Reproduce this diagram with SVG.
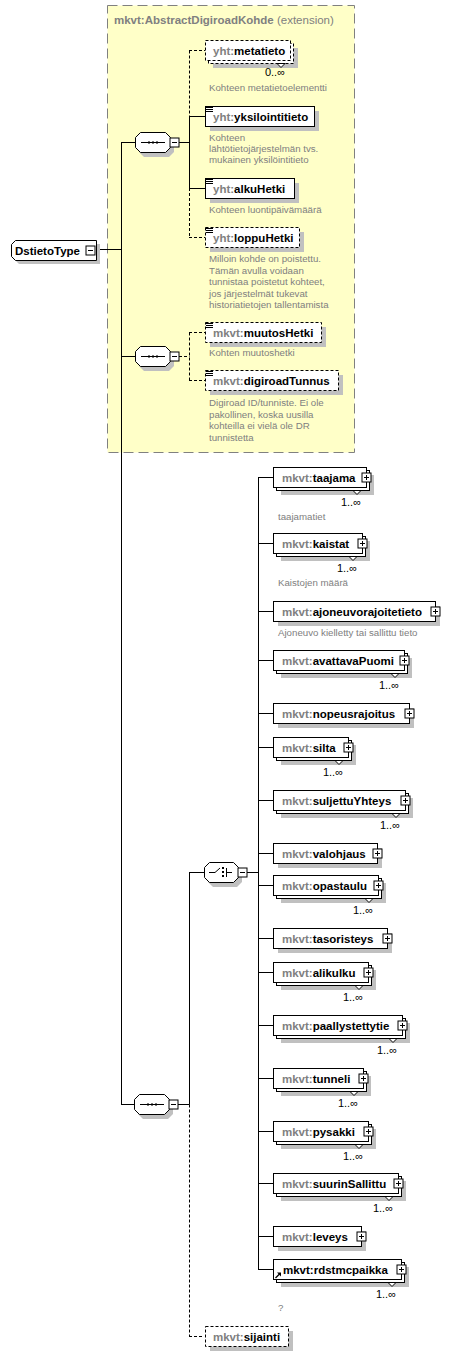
<svg xmlns="http://www.w3.org/2000/svg" xmlns:xlink="http://www.w3.org/1999/xlink" width="463" height="1356" viewBox="0 0 463 1356">
<style>
text{font-family:"Liberation Sans",Arial,sans-serif}
.bx{fill:#fff;stroke:#000;stroke-width:1}
.op{stroke-dasharray:3,2}
.sh{fill:#c0c0c0;stroke:none}
.nm{font-size:11.5px;font-weight:bold;fill:#000}
.pf{fill:#808080}
.ds{font-size:9.7px;fill:#808080}
.cd{font-size:11px;fill:#000;text-anchor:end}
.ln{stroke:#000;stroke-width:1;fill:none}
.dl{stroke:#000;stroke-width:1;fill:none;stroke-dasharray:3,2}
.ttl{font-size:11.5px;fill:#808080}
</style>
<defs>
<g id="plus"><rect x="-4" y="-4" width="9" height="9" fill="#fff" stroke="#000"/><path d="M-2,0.5H3M0.5,-2V3" stroke="#000" fill="none"/></g>
<g id="minus"><rect x="-4" y="-4" width="9" height="9" fill="#fff" stroke="#000"/><path d="M-2,0.5H3" stroke="#000" fill="none"/></g>
<g id="icon"><path d="M1,1.5H8M1,3.5H8M1,5.5H8" stroke="#000" fill="none"/></g>
<g id="seqsym"><path d="M6,0.5H30" stroke="#000"/><rect x="13" y="-0.5" width="2" height="2" fill="#000"/><rect x="17" y="-0.5" width="2" height="2" fill="#000"/><rect x="21" y="-0.5" width="2" height="2" fill="#000"/></g>
</defs>

<g id="extension">
<rect x="107.5" y="5.5" width="247" height="447" fill="#ffffc8" stroke="#808080" stroke-dasharray="10,5"/>
<text x="114" y="24" class="ttl"><tspan font-weight="bold">mkvt:AbstractDigiroadKohde</tspan> (extension)</text>
</g>

<g id="connectors">
<path class="ln" d="M96,249.5H121.5M121.5,142V1104.5M121,142.5H135M121,356.5H135M121,1104.5H134"/>
<path class="ln" d="M179,142.5H189.5M189.5,116V188M189,116.5H205M189,188.5H205"/>
<path class="dl" d="M189.5,50.5V116M189.5,188V237.5M189,50.5H205M189,237.5H205"/>
<path class="dl" d="M179,356.5H189.5M189.5,332.5V380.5M189,332.5H205M189,380.5H205"/>
<path class="ln" d="M178,1104.5H189.5M189.5,1104.5V872.5M189,872.5H204M247,872.5H258.5M258.5,477V1269.5"/>
<path class="dl" d="M189.5,1104.5V1336.5M189,1336.5H204"/>
<path class="ln" d="M258,477.5H273M258,543.5H273M258,611.5H273M258,660.5H273M258,713.5H273M258,747.5H273M258,800.5H273M258,853.5H273M258,885.5H273M258,938.5H273M258,972.5H273M258,1025.5H273M258,1078.5H273M258,1131.5H273M258,1183.5H273M258,1236.5H273M258,1269.5H273"/>
</g>

<g id="DstietoType">
<path class="sh" d="M19,244H100V264H19L15,260V248Z"/>
<path class="bx" d="M15.5,240.5H96.5V260.5H15.5L11.5,256.5V244.5Z"/>
<text x="15" y="254.5" class="nm">DstietoType</text>
<use xlink:href="#minus" x="90" y="250"/>
</g>

<g id="sequence1">
<path class="sh" d="M144,137H169L174,142V152L169,157H144L139,152V142Z"/>
<path class="bx" d="M140.5,132.5H165.5L170.5,137.5V147.5L165.5,152.5H140.5L135.5,147.5V137.5Z"/>
<use xlink:href="#seqsym" x="135" y="142"/>
<use xlink:href="#minus" x="174" y="142"/>
</g>

<g id="sequence2">
<path class="sh" d="M144,351H169L174,356V366L169,371H144L139,366V356Z"/>
<path class="bx" d="M140.5,346.5H165.5L170.5,351.5V361.5L165.5,366.5H140.5L135.5,361.5V351.5Z"/>
<use xlink:href="#seqsym" x="135" y="356"/>
<use xlink:href="#minus" x="174" y="356"/>
</g>

<g id="sequence3">
<path class="sh" d="M143,1099H168L173,1104V1114L168,1119H143L138,1114V1104Z"/>
<path class="bx" d="M139.5,1094.5H164.5L169.5,1099.5V1109.5L164.5,1114.5H139.5L134.5,1109.5V1099.5Z"/>
<use xlink:href="#seqsym" x="134" y="1104"/>
<use xlink:href="#minus" x="173" y="1104"/>
</g>

<g id="choice">
<path class="sh" d="M213,867H237L242,872V882L237,887H213L208,882V872Z"/>
<path class="bx" d="M209.5,862.5H233.5L238.5,867.5V877.5L233.5,882.5H209.5L204.5,877.5V867.5Z"/>
<path class="ln" d="M209,872.5H215L220,868M226.5,868V877M226,872.5H232"/>
<rect x="222" y="867" width="2" height="2"/><rect x="222" y="871" width="2" height="2"/><rect x="222" y="875" width="2" height="2"/>
<use xlink:href="#minus" x="242" y="872"/>
</g>

<g id="metatieto">
<rect class="sh" x="213" y="48" width="85" height="20"/>
<rect class="bx op" x="208.5" y="43.5" width="85" height="20"/>
<polygon class="bx" points="277,63.5 281,67.5 285,63.5"/>
<rect class="bx op" x="205.5" y="40.5" width="85" height="20"/>
<text x="213" y="54.5" class="nm"><tspan class="pf">yht:</tspan>metatieto</text>
<text x="285" y="76" class="cd">0..∞</text>
<text x="209" y="91" class="ds">Kohteen metatietoelementti</text>
</g>

<g id="yksilointitieto">
<rect class="sh" x="210" y="111" width="109" height="20"/>
<rect class="bx" x="205.5" y="106.5" width="109" height="20"/>
<use xlink:href="#icon" x="205" y="106"/>
<text x="213" y="120.5" class="nm"><tspan class="pf">yht:</tspan>yksilointitieto</text>
<text x="209" y="141" class="ds">Kohteen</text>
<text x="209" y="152" class="ds">lähtötietojärjestelmän  tvs.</text>
<text x="209" y="163" class="ds">mukainen yksilöintitieto</text>
</g>

<g id="alkuHetki">
<rect class="sh" x="210" y="183" width="89" height="20"/>
<rect class="bx" x="205.5" y="178.5" width="89" height="20"/>
<use xlink:href="#icon" x="205" y="178"/>
<text x="213" y="192.5" class="nm"><tspan class="pf">yht:</tspan>alkuHetki</text>
<text x="209" y="213" class="ds">Kohteen luontipäivämäärä</text>
</g>

<g id="loppuHetki">
<rect class="sh" x="210" y="232" width="94" height="20"/>
<rect class="bx op" x="205.5" y="227.5" width="94" height="20"/>
<use xlink:href="#icon" x="205" y="227"/>
<text x="213" y="241.5" class="nm"><tspan class="pf">yht:</tspan>loppuHetki</text>
<text x="209" y="262" class="ds">Milloin kohde on poistettu.</text>
<text x="209" y="273.5" class="ds">Tämän avulla voidaan</text>
<text x="209" y="285" class="ds">tunnistaa poistetut kohteet,</text>
<text x="209" y="296.5" class="ds">jos järjestelmät tukevat</text>
<text x="209" y="308" class="ds">historiatietojen tallentamista</text>
</g>

<g id="muutosHetki">
<rect class="sh" x="210" y="327" width="116" height="20"/>
<rect class="bx op" x="205.5" y="322.5" width="116" height="20"/>
<use xlink:href="#icon" x="205" y="322"/>
<text x="213" y="336.5" class="nm"><tspan class="pf">mkvt:</tspan>muutosHetki</text>
<text x="209" y="356" class="ds">Kohten muutoshetki</text>
</g>

<g id="digiroadTunnus">
<rect class="sh" x="210" y="375" width="133" height="20"/>
<rect class="bx op" x="205.5" y="370.5" width="133" height="20"/>
<use xlink:href="#icon" x="205" y="370"/>
<text x="213" y="384.5" class="nm"><tspan class="pf">mkvt:</tspan>digiroadTunnus</text>
<text x="209" y="406" class="ds">Digiroad ID/tunniste. Ei ole</text>
<text x="209" y="417.5" class="ds">pakollinen, koska uusilla</text>
<text x="209" y="429" class="ds">kohteilla ei vielä ole DR</text>
<text x="209" y="440.5" class="ds">tunnistetta</text>
</g>

<g id="taajama">
<rect class="sh" x="281" y="475" width="93" height="20"/>
<rect class="bx" x="276.5" y="470.5" width="93" height="20"/>
<polygon class="bx" points="353,490.5 357,494.5 361,490.5"/>
<rect class="bx" x="273.5" y="467.5" width="93" height="20"/>
<text x="282" y="481.5" class="nm"><tspan class="pf">mkvt:</tspan>taajama</text>
<use xlink:href="#plus" x="366" y="477"/>
<text x="361" y="505.5" class="cd">1..∞</text>
<text x="278" y="520" class="ds">taajamatiet</text>
</g>

<g id="kaistat">
<rect class="sh" x="281" y="541" width="89" height="20"/>
<rect class="bx" x="276.5" y="536.5" width="89" height="20"/>
<polygon class="bx" points="349,556.5 353,560.5 357,556.5"/>
<rect class="bx" x="273.5" y="533.5" width="89" height="20"/>
<text x="282" y="547.5" class="nm"><tspan class="pf">mkvt:</tspan>kaistat</text>
<use xlink:href="#plus" x="362" y="543"/>
<text x="357" y="571.5" class="cd">1..∞</text>
<text x="278" y="586" class="ds">Kaistojen määrä</text>
</g>

<g id="ajoneuvorajoitetieto">
<rect class="sh" x="278" y="606" width="162" height="20"/>
<rect class="bx" x="273.5" y="601.5" width="162" height="20"/>
<text x="282" y="615.5" class="nm"><tspan class="pf">mkvt:</tspan>ajoneuvorajoitetieto</text>
<use xlink:href="#plus" x="435" y="611"/>
<text x="278" y="636" class="ds">Ajoneuvo kielletty tai sallittu tieto</text>
</g>

<g id="avattavaPuomi">
<rect class="sh" x="281" y="658" width="131" height="20"/>
<rect class="bx" x="276.5" y="653.5" width="131" height="20"/>
<polygon class="bx" points="391,673.5 395,677.5 399,673.5"/>
<rect class="bx" x="273.5" y="650.5" width="131" height="20"/>
<text x="282" y="664.5" class="nm"><tspan class="pf">mkvt:</tspan>avattavaPuomi</text>
<use xlink:href="#plus" x="404" y="660"/>
<text x="399" y="688.5" class="cd">1..∞</text>
</g>

<g id="nopeusrajoitus">
<rect class="sh" x="278" y="708" width="136" height="20"/>
<rect class="bx" x="273.5" y="703.5" width="136" height="20"/>
<text x="282" y="717.5" class="nm"><tspan class="pf">mkvt:</tspan>nopeusrajoitus</text>
<use xlink:href="#plus" x="409" y="713"/>
</g>

<g id="silta">
<rect class="sh" x="281" y="745" width="75" height="20"/>
<rect class="bx" x="276.5" y="740.5" width="75" height="20"/>
<polygon class="bx" points="335,760.5 339,764.5 343,760.5"/>
<rect class="bx" x="273.5" y="737.5" width="75" height="20"/>
<text x="282" y="751.5" class="nm"><tspan class="pf">mkvt:</tspan>silta</text>
<use xlink:href="#plus" x="348" y="747"/>
<text x="343" y="775.5" class="cd">1..∞</text>
</g>

<g id="suljettuYhteys">
<rect class="sh" x="281" y="798" width="132" height="20"/>
<rect class="bx" x="276.5" y="793.5" width="132" height="20"/>
<polygon class="bx" points="392,813.5 396,817.5 400,813.5"/>
<rect class="bx" x="273.5" y="790.5" width="132" height="20"/>
<text x="282" y="804.5" class="nm"><tspan class="pf">mkvt:</tspan>suljettuYhteys</text>
<use xlink:href="#plus" x="405" y="800"/>
<text x="400" y="828.5" class="cd">1..∞</text>
</g>

<g id="valohjaus">
<rect class="sh" x="278" y="848" width="104" height="20"/>
<rect class="bx" x="273.5" y="843.5" width="104" height="20"/>
<text x="282" y="857.5" class="nm"><tspan class="pf">mkvt:</tspan>valohjaus</text>
<use xlink:href="#plus" x="377" y="853"/>
</g>

<g id="opastaulu">
<rect class="sh" x="281" y="883" width="105" height="20"/>
<rect class="bx" x="276.5" y="878.5" width="105" height="20"/>
<polygon class="bx" points="365,898.5 369,902.5 373,898.5"/>
<rect class="bx" x="273.5" y="875.5" width="105" height="20"/>
<text x="282" y="889.5" class="nm"><tspan class="pf">mkvt:</tspan>opastaulu</text>
<use xlink:href="#plus" x="378" y="885"/>
<text x="373" y="913.5" class="cd">1..∞</text>
</g>

<g id="tasoristeys">
<rect class="sh" x="278" y="933" width="114" height="20"/>
<rect class="bx" x="273.5" y="928.5" width="114" height="20"/>
<text x="282" y="942.5" class="nm"><tspan class="pf">mkvt:</tspan>tasoristeys</text>
<use xlink:href="#plus" x="387" y="938"/>
</g>

<g id="alikulku">
<rect class="sh" x="281" y="970" width="95" height="20"/>
<rect class="bx" x="276.5" y="965.5" width="95" height="20"/>
<polygon class="bx" points="355,985.5 359,989.5 363,985.5"/>
<rect class="bx" x="273.5" y="962.5" width="95" height="20"/>
<text x="282" y="976.5" class="nm"><tspan class="pf">mkvt:</tspan>alikulku</text>
<use xlink:href="#plus" x="368" y="972"/>
<text x="363" y="1000.5" class="cd">1..∞</text>
</g>

<g id="paallystettytie">
<rect class="sh" x="281" y="1023" width="129" height="20"/>
<rect class="bx" x="276.5" y="1018.5" width="129" height="20"/>
<polygon class="bx" points="389,1038.5 393,1042.5 397,1038.5"/>
<rect class="bx" x="273.5" y="1015.5" width="129" height="20"/>
<text x="282" y="1029.5" class="nm"><tspan class="pf">mkvt:</tspan>paallystettytie</text>
<use xlink:href="#plus" x="402" y="1025"/>
<text x="397" y="1053.5" class="cd">1..∞</text>
</g>

<g id="tunneli">
<rect class="sh" x="281" y="1076" width="90" height="20"/>
<rect class="bx" x="276.5" y="1071.5" width="90" height="20"/>
<polygon class="bx" points="350,1091.5 354,1095.5 358,1091.5"/>
<rect class="bx" x="273.5" y="1068.5" width="90" height="20"/>
<text x="282" y="1082.5" class="nm"><tspan class="pf">mkvt:</tspan>tunneli</text>
<use xlink:href="#plus" x="363" y="1078"/>
<text x="358" y="1106.5" class="cd">1..∞</text>
</g>

<g id="pysakki">
<rect class="sh" x="281" y="1129" width="95" height="20"/>
<rect class="bx" x="276.5" y="1124.5" width="95" height="20"/>
<polygon class="bx" points="355,1144.5 359,1148.5 363,1144.5"/>
<rect class="bx" x="273.5" y="1121.5" width="95" height="20"/>
<text x="282" y="1135.5" class="nm"><tspan class="pf">mkvt:</tspan>pysakki</text>
<use xlink:href="#plus" x="368" y="1131"/>
<text x="363" y="1159.5" class="cd">1..∞</text>
</g>

<g id="suurinSallittu">
<rect class="sh" x="281" y="1181" width="125" height="20"/>
<rect class="bx" x="276.5" y="1176.5" width="125" height="20"/>
<polygon class="bx" points="385,1196.5 389,1200.5 393,1196.5"/>
<rect class="bx" x="273.5" y="1173.5" width="125" height="20"/>
<text x="282" y="1187.5" class="nm"><tspan class="pf">mkvt:</tspan>suurinSallittu</text>
<use xlink:href="#plus" x="398" y="1183"/>
<text x="393" y="1211.5" class="cd">1..∞</text>
</g>

<g id="leveys">
<rect class="sh" x="278" y="1231" width="88" height="20"/>
<rect class="bx" x="273.5" y="1226.5" width="88" height="20"/>
<text x="282" y="1240.5" class="nm"><tspan class="pf">mkvt:</tspan>leveys</text>
<use xlink:href="#plus" x="361" y="1236"/>
</g>

<g id="rdstmcpaikka">
<rect class="sh" x="281" y="1267" width="128" height="20"/>
<rect class="bx" x="276.5" y="1262.5" width="128" height="20"/>
<polygon class="bx" points="388,1282.5 392,1286.5 396,1282.5"/>
<rect class="bx" x="273.5" y="1259.5" width="128" height="20"/>
<path d="M275.5,1278L280,1273.5" stroke="#000" stroke-width="1.3" fill="none"/>
<polygon points="277,1272.5 281,1272.5 281,1276.5" fill="#000"/>
<text x="283" y="1273.5" class="nm">mkvt:rdstmcpaikka</text>
<use xlink:href="#plus" x="401" y="1269"/>
<text x="396" y="1297.5" class="cd">1..∞</text>
<text x="278" y="1311" class="ds">?</text>
</g>

<g id="sijainti">
<rect class="sh" x="210" y="1331" width="83" height="20"/>
<rect class="bx op" x="205.5" y="1326.5" width="83" height="20"/>
<text x="213" y="1340.5" class="nm"><tspan class="pf">mkvt:</tspan>sijainti</text>
</g>
</svg>
